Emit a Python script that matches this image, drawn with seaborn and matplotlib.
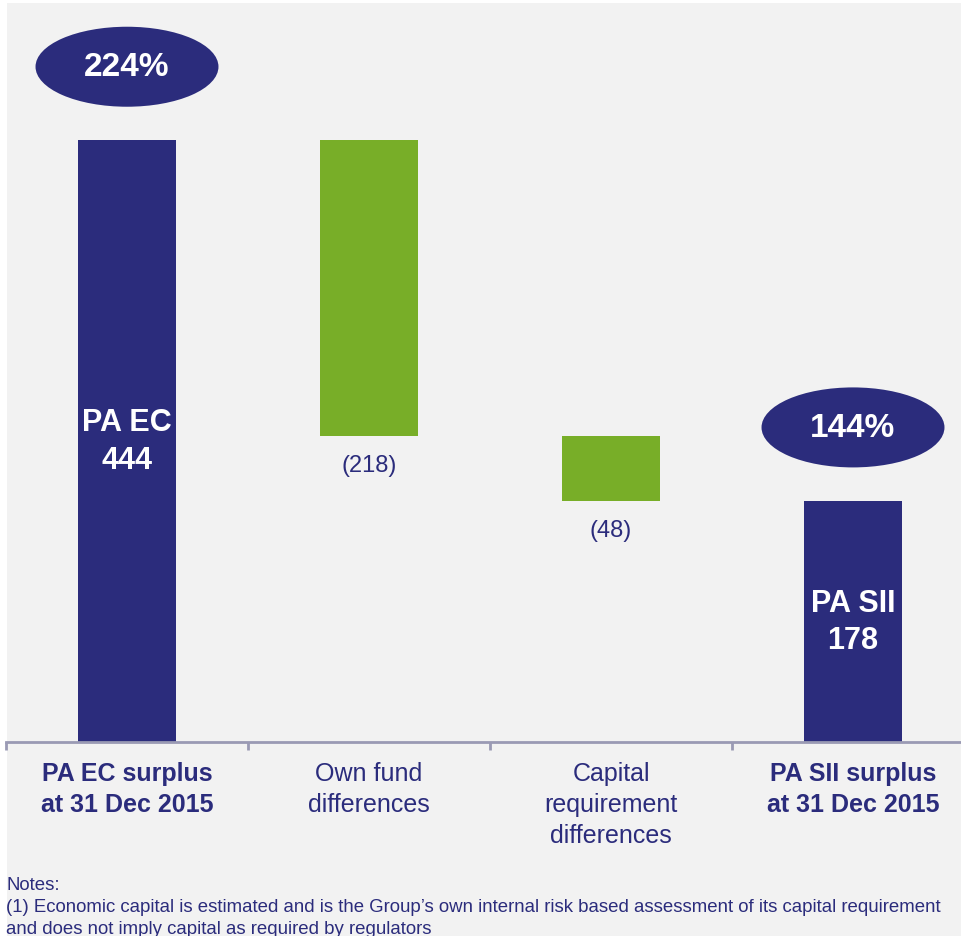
import numpy as np
import pandas as pd
import matplotlib
matplotlib.use("Agg")
import matplotlib.pyplot as plt
import seaborn as sns
from matplotlib.patches import Ellipse, Rectangle

sns.set_theme(style="white")
plt.rcParams['font.family'] = ['Liberation Sans', 'DejaVu Sans']

# ── Data ──
categories = ["PA EC surplus\nat 31 Dec 2015", "Own fund\ndifferences",
              "Capital\nrequirement\ndifferences", "PA SII surplus\nat 31 Dec 2015"]
values = [444, -218, -48, 178]
is_total = [True, False, False, True]
inner_labels = ["PA EC\n444", None, None, "PA SII\n178"]
ratio_labels = ["224%", None, None, "144%"]
notes = ["Notes:",
         "(1) Economic capital is estimated and is the Group\u2019s own internal risk based assessment of its capital requirement",
         "and does not imply capital as required by regulators"]

NAVY = "#2B2C7C"
GREEN = "#78AE28"
BG = "#F2F2F2"

# waterfall bottoms / heights
bottoms, heights = [], []
running = 0
for v, tot in zip(values, is_total):
    if tot:
        bottoms.append(0)
        heights.append(v)
        running = v
    else:
        running += v
        bottoms.append(running)
        heights.append(-v)

df = pd.DataFrame({"cat": categories, "height": heights, "bottom": bottoms,
                   "kind": ["total" if t else "diff" for t in is_total]})

W, H = 962, 937
fig = plt.figure(figsize=(W / 100, H / 100), dpi=100, facecolor="white")
fig.patches.append(Rectangle((7 / W, 0), 1, (H - 4) / H, transform=fig.transFigure,
                             facecolor=BG, edgecolor="none", zorder=-10))

ax = fig.add_axes([6 / W, (H - 743) / H, 968 / W, 739 / H])
ax.set_facecolor("none")

sns.barplot(data=df, x="cat", y="height", hue="kind",
            palette={"total": NAVY, "diff": GREEN}, width=0.405,
            dodge=False, legend=False, ax=ax, saturation=1)

# shift bars to their waterfall bottoms
for patch in ax.patches:
    i = int(round(patch.get_x() + patch.get_width() / 2))
    patch.set_y(bottoms[i])
    patch.set_height(heights[i])
    patch.set_edgecolor("none")

ax.set_xlim(-0.5, 3.5)
ax.set_ylim(0, 545)

for i in range(len(categories)):
    top = bottoms[i] + heights[i]
    if inner_labels[i]:
        ax.text(i, bottoms[i] + heights[i] / 2, inner_labels[i], ha="center", va="center",
                color="white", fontsize=22, fontweight="bold", linespacing=1.32)
    else:
        ax.annotate(f"({abs(values[i])})", (i, bottoms[i]), xytext=(0, -29),
                    textcoords="offset pixels", ha="center", va="center",
                    color=NAVY, fontsize=17)
    if ratio_labels[i]:
        cy = top + 54
        ax.add_patch(Ellipse((i, cy), 0.756, 59, facecolor=NAVY, edgecolor="none"))
        ax.text(i, cy, ratio_labels[i], ha="center", va="center", color="white",
                fontsize=24, fontweight="bold")

# axis styling
for s in ["top", "right", "left"]:
    ax.spines[s].set_visible(False)
ax.spines["bottom"].set_color("#9A9AB4")
ax.spines["bottom"].set_linewidth(2)
ax.set_yticks([])
ax.set_xlabel("")
ax.set_ylabel("")
ax.set_xticks(np.arange(len(categories)))
ax.set_xticks(np.arange(-0.5, len(categories)), minor=True)
ax.tick_params(axis="x", which="major", length=0, pad=14)
ax.tick_params(axis="x", which="minor", bottom=True, length=6, width=2,
               color="#9A9AB4", direction="out")
ax.set_xticklabels(categories, fontsize=18, color=NAVY)
for lab, tot in zip(ax.get_xticklabels(), is_total):
    lab.set_linespacing(1.35)
    lab.set_verticalalignment("top")
    if tot:
        lab.set_fontweight("bold")

# notes
for txt, base in zip(notes, [890, 912, 934]):
    fig.text(6 / W, (H - base) / H, txt, ha="left", va="baseline",
             fontsize=13.4, color=NAVY)

fig.savefig("out.png", dpi=100, facecolor="white")
